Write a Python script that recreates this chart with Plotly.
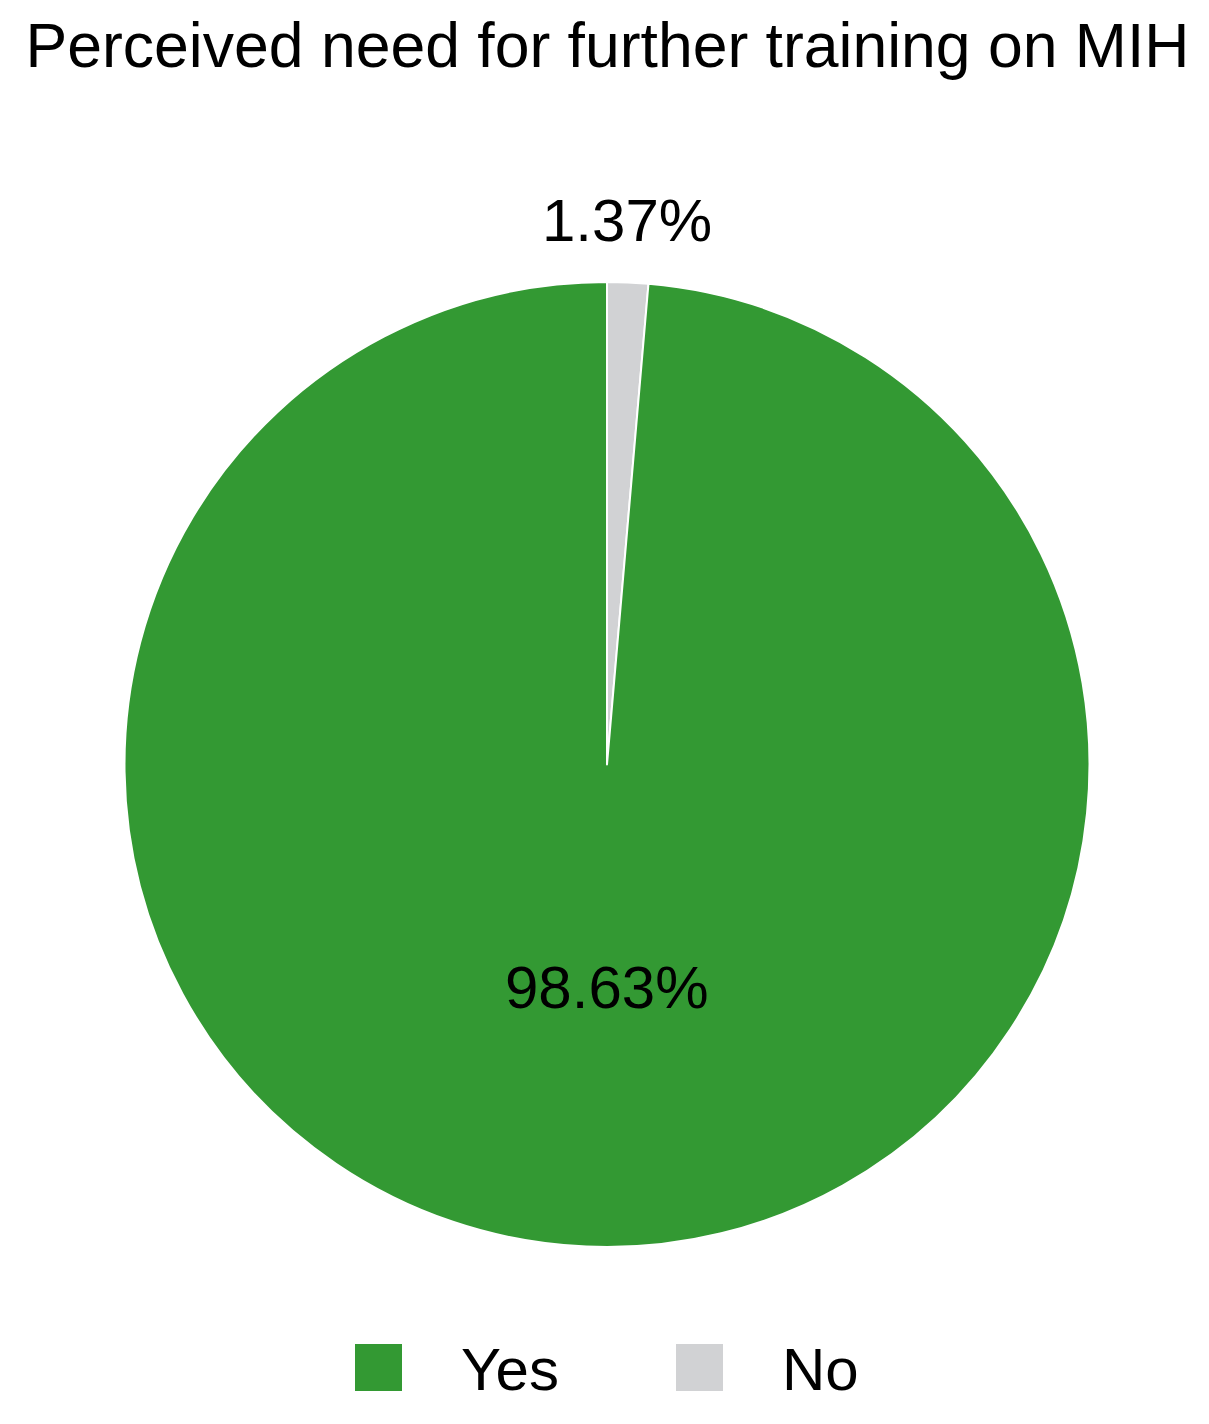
import plotly.graph_objects as go

title = "Perceived need for further training on MIH"
labels = ["Yes", "No"]
counts = [72, 1]
colors = ["#339933", "#d1d2d4"]

W, H = 1209, 1424
OFF = 8  # page body margin shifts the figure; compensate
font = "Liberation Sans, Arial, sans-serif"

total = sum(counts)
pct_text = [f"{c / total:.2%}" for c in counts]

def px_x(v):
    return (v - OFF) / W

def px_y(v):
    return 1 - (v - OFF) / H

# "No" is drawn first so that its thin slice sits just right of 12 o'clock
fig = go.Figure(go.Pie(
    labels=labels[::-1],
    values=counts[::-1],
    marker=dict(colors=colors[::-1], line=dict(color="white", width=2)),
    sort=False,
    direction="clockwise",
    rotation=0,
    textinfo="none",
    domain=dict(x=[0.0, 2 * px_x(607)], y=[px_y(1247), px_y(282)]),
    showlegend=False,
    hoverinfo="label+percent",
))

annotations = []
# percentage labels (placed as in the original chart)
label_pos = [(607, 987), (627, 221)]
for txt, (lx, ly) in zip(pct_text, label_pos):
    annotations.append(dict(text=txt, xref="paper", yref="paper",
                            x=px_x(lx), y=px_y(ly),
                            xanchor="center", yanchor="middle", showarrow=False,
                            font=dict(family=font, size=60, color="black")))

# legend drawn by hand so the swatches can be large
legend_x = [355, 676]
shapes = []
for lab, col, lx in zip(labels, colors, legend_x):
    shapes.append(dict(type="rect", xref="paper", yref="paper",
                       x0=px_x(lx), x1=px_x(lx + 47),
                       y0=px_y(1391), y1=px_y(1344),
                       fillcolor=col, line=dict(width=0)))
    annotations.append(dict(text=lab, xref="paper", yref="paper",
                            x=px_x(lx + 104), y=px_y(1369),
                            xanchor="left", yanchor="middle", showarrow=False,
                            font=dict(family=font, size=60, color="black")))

fig.update_layout(
    width=W, height=H,
    margin=dict(l=0, r=0, t=0, b=0, pad=0, autoexpand=False),
    paper_bgcolor="white",
    plot_bgcolor="white",
    title=dict(text=title, x=px_x(607.5), xanchor="center", y=px_y(23), yanchor="top",
               font=dict(family=font, size=62.5, color="black")),
    shapes=shapes,
    annotations=annotations,
)

fig.write_html("out.html")
